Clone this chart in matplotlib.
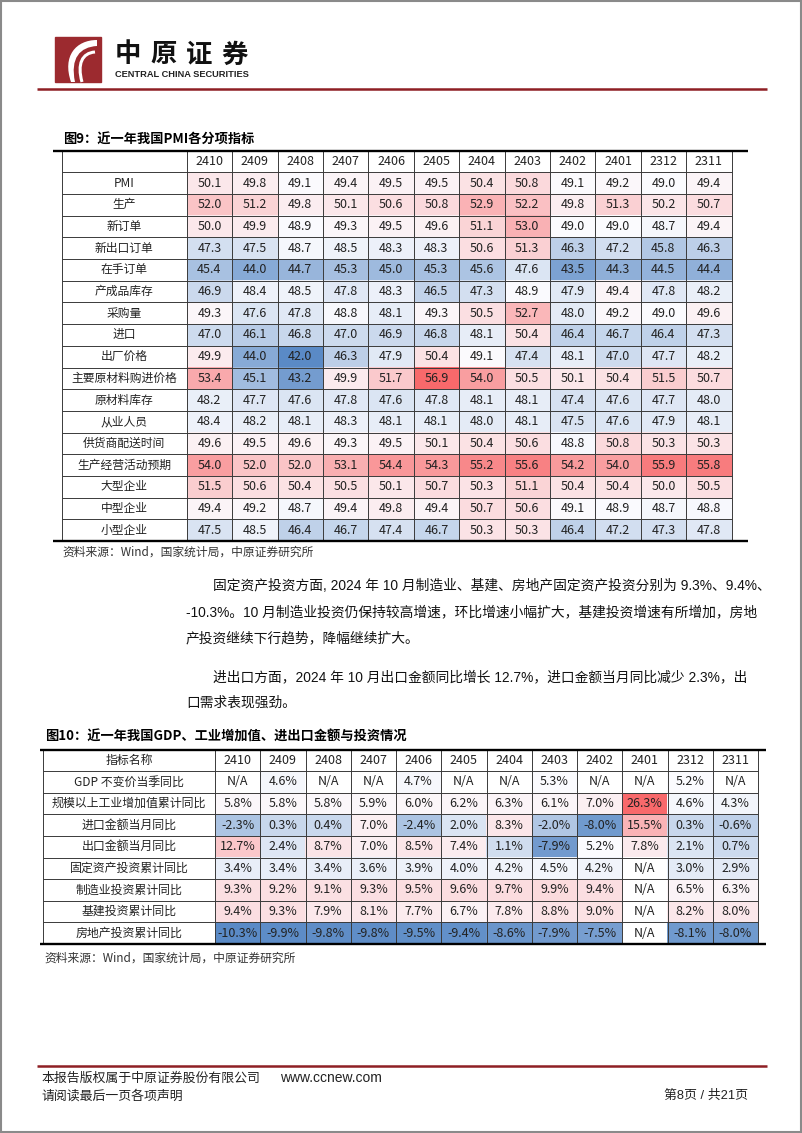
import numpy as np
import matplotlib.pyplot as plt
from matplotlib.colors import LinearSegmentedColormap, TwoSlopeNorm
from matplotlib.patches import Rectangle, PathPatch
from matplotlib.path import Path

# ---- data -------------------------------------------------------------
months = ["2410", "2409", "2408", "2407", "2406", "2405",
          "2404", "2403", "2402", "2401", "2312", "2311"]

pmi_items = ["PMI", "生产", "新订单", "新出口订单", "在手订单", "产成品库存",
             "采购量", "进口", "出厂价格", "主要原材料购进价格", "原材料库存",
             "从业人员", "供货商配送时间", "生产经营活动预期", "大型企业",
             "中型企业", "小型企业"]

pmi_values = [
    [50.1, 49.8, 49.1, 49.4, 49.5, 49.5, 50.4, 50.8, 49.1, 49.2, 49.0, 49.4],
    [52.0, 51.2, 49.8, 50.1, 50.6, 50.8, 52.9, 52.2, 49.8, 51.3, 50.2, 50.7],
    [50.0, 49.9, 48.9, 49.3, 49.5, 49.6, 51.1, 53.0, 49.0, 49.0, 48.7, 49.4],
    [47.3, 47.5, 48.7, 48.5, 48.3, 48.3, 50.6, 51.3, 46.3, 47.2, 45.8, 46.3],
    [45.4, 44.0, 44.7, 45.3, 45.0, 45.3, 45.6, 47.6, 43.5, 44.3, 44.5, 44.4],
    [46.9, 48.4, 48.5, 47.8, 48.3, 46.5, 47.3, 48.9, 47.9, 49.4, 47.8, 48.2],
    [49.3, 47.6, 47.8, 48.8, 48.1, 49.3, 50.5, 52.7, 48.0, 49.2, 49.0, 49.6],
    [47.0, 46.1, 46.8, 47.0, 46.9, 46.8, 48.1, 50.4, 46.4, 46.7, 46.4, 47.3],
    [49.9, 44.0, 42.0, 46.3, 47.9, 50.4, 49.1, 47.4, 48.1, 47.0, 47.7, 48.2],
    [53.4, 45.1, 43.2, 49.9, 51.7, 56.9, 54.0, 50.5, 50.1, 50.4, 51.5, 50.7],
    [48.2, 47.7, 47.6, 47.8, 47.6, 47.8, 48.1, 48.1, 47.4, 47.6, 47.7, 48.0],
    [48.4, 48.2, 48.1, 48.3, 48.1, 48.1, 48.0, 48.1, 47.5, 47.6, 47.9, 48.1],
    [49.6, 49.5, 49.6, 49.3, 49.5, 50.1, 50.4, 50.6, 48.8, 50.8, 50.3, 50.3],
    [54.0, 52.0, 52.0, 53.1, 54.4, 54.3, 55.2, 55.6, 54.2, 54.0, 55.9, 55.8],
    [51.5, 50.6, 50.4, 50.5, 50.1, 50.7, 50.3, 51.1, 50.4, 50.4, 50.0, 50.5],
    [49.4, 49.2, 48.7, 49.4, 49.8, 49.4, 50.7, 50.6, 49.1, 48.9, 48.7, 48.8],
    [47.5, 48.5, 46.4, 46.7, 47.4, 46.7, 50.3, 50.3, 46.4, 47.2, 47.3, 47.8],
]

macro_items = ["GDP 不变价当季同比", "规模以上工业增加值累计同比", "进口金额当月同比",
               "出口金额当月同比", "固定资产投资累计同比", "制造业投资累计同比",
               "基建投资累计同比", "房地产投资累计同比"]

macro_values = [
    [None, 4.6, None, None, 4.7, None, None, 5.3, None, None, 5.2, None],
    [5.8, 5.8, 5.8, 5.9, 6.0, 6.2, 6.3, 6.1, 7.0, 26.3, 4.6, 4.3],
    [-2.3, 0.3, 0.4, 7.0, -2.4, 2.0, 8.3, -2.0, -8.0, 15.5, 0.3, -0.6],
    [12.7, 2.4, 8.7, 7.0, 8.5, 7.4, 1.1, -7.9, 5.2, 7.8, 2.1, 0.7],
    [3.4, 3.4, 3.4, 3.6, 3.9, 4.0, 4.2, 4.5, 4.2, None, 3.0, 2.9],
    [9.3, 9.2, 9.1, 9.3, 9.5, 9.6, 9.7, 9.9, 9.4, None, 6.5, 6.3],
    [9.4, 9.3, 7.9, 8.1, 7.7, 6.7, 7.8, 8.8, 9.0, None, 8.2, 8.0],
    [-10.3, -9.9, -9.8, -9.8, -9.5, -9.4, -8.6, -7.9, -7.5, None, -8.1, -8.0],
]

para1 = ["固定资产投资方面, 2024 年 10 月制造业、基建、房地产固定资产投资分别为 9.3%、9.4%、",
         "-10.3%。10 月制造业投资仍保持较高增速，环比增速小幅扩大，基建投资增速有所增加，房地",
         "产投资继续下行趋势，降幅继续扩大。"]
para2 = ["进出口方面，2024 年 10 月出口金额同比增长 12.7%，进口金额当月同比减少 2.3%，出",
         "口需求表现强劲。"]

CJK = ["Noto Sans CJK SC", "DejaVu Sans"]
BODY = ["Liberation Sans", "Noto Sans CJK SC"]
DARK_RED = "#8E1F24"

cmap = LinearSegmentedColormap.from_list("rwb", ["#5A8AC6", "#FCFCFF", "#F8696B"])
cmap.set_bad("white")


def draw_table(ax, items, values, corner, x_left, x_label, x_right, y_top,
               row_h, fmt, rule_x, fs_label):
    vals = np.array([[np.nan if v is None else v for v in row] for row in values],
                    dtype=float)
    nrow, ncol = vals.shape
    y_bot = y_top + (nrow + 1) * row_h
    norm = TwoSlopeNorm(vcenter=np.nanmedian(vals), vmin=np.nanmin(vals),
                        vmax=np.nanmax(vals))
    ax.imshow(np.ma.masked_invalid(vals), cmap=cmap, norm=norm,
              extent=(x_label, x_right, y_bot, y_top + row_h),
              aspect="auto", interpolation="nearest", zorder=1)

    col_w = (x_right - x_label) / ncol
    xs = [x_left, x_label] + [x_label + col_w * (i + 1) for i in range(ncol)]
    ys = [y_top + row_h * i for i in range(nrow + 2)]
    ax.hlines(ys, x_left, x_right, colors="#3a3a3a", lw=0.7, zorder=2)
    ax.vlines(xs, y_top, y_bot, colors="#3a3a3a", lw=0.7, zorder=2)
    ax.hlines([y_top, y_bot], rule_x[0], rule_x[1], colors="black", lw=1.7, zorder=3)

    ax.text((x_left + x_label) / 2, y_top + row_h / 2, corner, ha="center",
            va="center", fontsize=fs_label, family=CJK, color="#222")
    for j, m in enumerate(months):
        ax.text(x_label + col_w * (j + 0.5), y_top + row_h / 2, m, ha="center",
                va="center", fontsize=9, family=CJK, color="#222")
    for i, name in enumerate(items):
        yc = y_top + row_h * (i + 1.5)
        ax.text((x_left + x_label) / 2, yc, name, ha="center", va="center",
                fontsize=fs_label, family=CJK, color="#222")
        for j in range(ncol):
            v = vals[i, j]
            s = "N/A" if np.isnan(v) else fmt.format(v)
            ax.text(x_label + col_w * (j + 0.5), yc, s, ha="center",
                    va="center", fontsize=9, family=CJK, color="#222")
    return y_bot


fig = plt.figure(figsize=(8.02, 11.33), dpi=100)
ax = fig.add_axes([0, 0, 1, 1])

# ---- header -----------------------------------------------------------
ax.add_patch(Rectangle((55, 37), 46, 45, color="#9C2A2F", zorder=1))
swirl = Path([(97, 40), (76, 40), (62, 56), (71, 82),
              (75, 82), (70, 58), (80, 47), (97, 46), (97, 40)],
             [Path.MOVETO, Path.CURVE4, Path.CURVE4, Path.CURVE4,
              Path.LINETO, Path.CURVE4, Path.CURVE4, Path.CURVE4, Path.CLOSEPOLY])
ax.add_patch(PathPatch(swirl, fc="white", ec="none", zorder=2))
swirl2 = Path([(95, 52), (82, 53), (77, 64), (82, 82)],
              [Path.MOVETO, Path.CURVE4, Path.CURVE4, Path.CURVE4])
ax.add_patch(PathPatch(swirl2, fc="none", ec="white", lw=2.2, zorder=2))
for k, ch in enumerate("中原证券"):
    ax.text(128 + 35.5 * k, 55, ch, fontsize=19, fontweight="bold", family=CJK,
            va="center", ha="center", color="#111")
ax.text(115, 74.5, "CENTRAL CHINA SECURITIES", fontsize=6.7, fontweight="bold",
        family=["Liberation Sans Narrow", "Liberation Sans"], va="center",
        ha="left", color="#222")
ax.hlines(89, 37, 767, colors=DARK_RED, lw=1.8)

# ---- table 1 ----------------------------------------------------------
ax.text(63, 140, "图9：近一年我国PMI各分项指标", fontsize=9.5, fontweight="bold",
        family=CJK, va="center", ha="left")
draw_table(ax, pmi_items, pmi_values, "", 62, 186.7, 731.5, 150.5, 21.7,
           "{:.1f}", (53, 748), 8.5)
ax.text(62, 552, "资料来源：Wind，国家统计局，中原证券研究所", fontsize=8.5,
        family=CJK, va="center", ha="left", color="#333")

# ---- paragraphs -------------------------------------------------------
for k, line in enumerate(para1):
    ax.text(213 if k == 0 else 186, 586 + 26 * k, line, fontsize=9.9,
            family=BODY, va="center", ha="left", color="#111")
for k, line in enumerate(para2):
    ax.text(213 if k == 0 else 186, 677 + 26 * k, line, fontsize=9.9,
            family=BODY, va="center", ha="left", color="#111")

# ---- table 2 ----------------------------------------------------------
ax.text(45, 737, "图10：近一年我国GDP、工业增加值、进出口金额与投资情况", fontsize=9.5,
        fontweight="bold", family=CJK, va="center", ha="left")
draw_table(ax, macro_items, macro_values, "指标名称", 43, 215, 758, 749.5, 21.6,
           "{:.1f}%", (40, 766), 8.6)
ax.text(44, 958, "资料来源：Wind，国家统计局，中原证券研究所", fontsize=8.5,
        family=CJK, va="center", ha="left", color="#333")

# ---- footer -----------------------------------------------------------
ax.hlines(1066, 37, 767, colors=DARK_RED, lw=1.8)
ax.text(41, 1078, "本报告版权属于中原证券股份有限公司", fontsize=9.3, family=CJK,
        va="center", ha="left", color="#222")
ax.text(280, 1078, "www.ccnew.com", fontsize=10, family=BODY, va="center",
        ha="left", color="#222")
ax.text(41, 1096, "请阅读最后一页各项声明", fontsize=9.3, family=CJK,
        va="center", ha="left", color="#222")
ax.text(748, 1096, "第8页 / 共21页", fontsize=9.3, family=BODY,
        va="center", ha="right", color="#222")

ax.add_patch(Rectangle((0.8, 0.8), 800.4, 1131.4, fill=False, ec="#8a8a8a", lw=1.5))
ax.set_xlim(0, 802)
ax.set_ylim(1133, 0)
ax.axis("off")
fig.savefig("out.png", dpi=100)
